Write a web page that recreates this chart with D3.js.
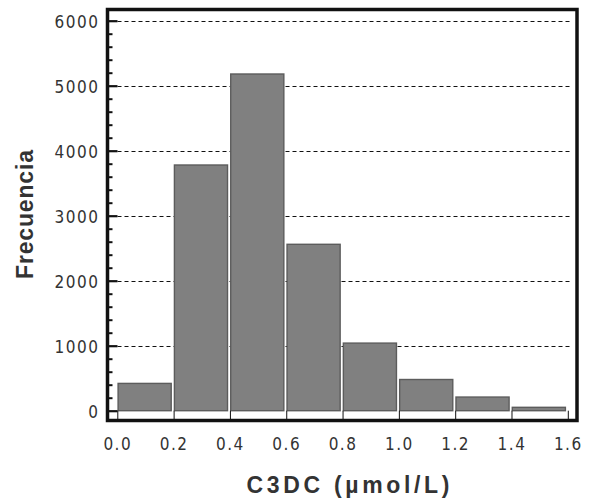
<!DOCTYPE html>
<html lang="es">
  <head>
    <meta charset="UTF-8" />
    <script src="https://d3js.org/d3.v7.min.js"></script>
    <style>
      body { margin: 0; background: #fff; }
      .tick text { font-family: "Liberation Sans Narrow", "DejaVu Sans Condensed", sans-serif; font-size: 17px; fill: #333; letter-spacing: 1.5px; }
      .title { font-family: "Liberation Sans", Arial, sans-serif; font-weight: bold; fill: #333; }
    </style>
  </head>

  <body>
    <script>
      var width = 591,
        height = 498;

      // limites de clase (µmol/L) y frecuencias
      var binStarts = [0.0, 0.2, 0.4, 0.6, 0.8, 1.0, 1.2, 1.4];
      var binWidth = 0.2;
      var frecuencias = [420, 3780, 5180, 2560, 1040, 480, 210, 52];
      var xTicks = [0.0, 0.2, 0.4, 0.6, 0.8, 1.0, 1.2, 1.4, 1.6];
      var yTicks = [0, 1000, 2000, 3000, 4000, 5000, 6000];

      var svg = d3
        .select("body")
        .append("svg")
        .attr("width", width)
        .attr("height", height);

      var frame = { left: 107.5, right: 577, top: 9.5, bottom: 420.5 };

      var x = d3.scaleLinear().domain([0, 1.6]).range([117.3, 567.8]);
      var y = d3.scaleLinear().domain([0, 6000]).range([410.7, 20.7]);

      // lineas de cuadricula
      svg
        .append("g")
        .selectAll("line")
        .data(yTicks.slice(1))
        .enter()
        .append("line")
        .attr("x1", frame.left + 10)
        .attr("x2", frame.right - 5)
        .attr("y1", function (d) { return Math.round(y(d)) + 0.5; })
        .attr("y2", function (d) { return Math.round(y(d)) + 0.5; })
        .attr("stroke", "#111")
        .attr("stroke-width", 1)
        .attr("stroke-dasharray", "4,3");

      // barras
      svg
        .append("g")
        .selectAll("rect")
        .data(frecuencias)
        .enter()
        .append("rect")
        .attr("x", function (d, i) { return x(binStarts[i]) + 0.8; })
        .attr("y", function (d) { return y(d); })
        .attr("width", function (d, i) { return x(binStarts[i] + binWidth) - x(binStarts[i]) - 3.2; })
        .attr("height", function (d) { return y(0) - y(d); })
        .attr("fill", "#808080")
        .attr("stroke", "#5c5c5c")
        .attr("stroke-width", 1.4);

      // eje Y (ticks hacia dentro)
      var yAxis = svg
        .append("g")
        .attr("transform", "translate(" + frame.left + ",0)")
        .call(d3.axisLeft(y).tickValues(yTicks).tickSize(-10).tickPadding(8).tickFormat(d3.format("d")));
      yAxis.select(".domain").remove();
      yAxis.selectAll(".tick line").attr("stroke", "#111").attr("stroke-width", 2.2);
      yAxis.selectAll(".tick text").attr("dy", "0.42em");

      // ticks menores cada 200
      var minor = svg
        .append("g")
        .attr("transform", "translate(" + frame.left + ",0)")
        .call(d3.axisLeft(y).tickValues(d3.range(200, 6000, 200).filter(function (v) { return v % 1000 !== 0; })).tickSize(-5).tickFormat(""));
      minor.select(".domain").remove();
      minor.selectAll(".tick line").attr("stroke", "#111").attr("stroke-width", 2);

      // eje X
      var xAxis = svg
        .append("g")
        .attr("transform", "translate(0," + frame.bottom + ")")
        .call(d3.axisBottom(x).tickValues(xTicks).tickSize(-9.8).tickPadding(17).tickFormat(d3.format(".1f")));
      xAxis.select(".domain").remove();
      xAxis.selectAll(".tick line").attr("stroke", "#111").attr("stroke-width", 1);

      // marco
      svg
        .append("rect")
        .attr("x", frame.left)
        .attr("y", frame.top)
        .attr("width", frame.right - frame.left)
        .attr("height", frame.bottom - frame.top)
        .attr("fill", "none")
        .attr("stroke", "#111")
        .attr("stroke-width", 3.5);

      // titulos de ejes
      svg
        .append("text")
        .attr("class", "title")
        .attr("x", 348)
        .attr("y", 493)
        .attr("text-anchor", "middle")
        .attr("font-size", 23)
        .attr("textLength", 203)
        .attr("lengthAdjust", "spacing")
        .text("C3DC (µmol/L)");

      svg
        .append("text")
        .attr("class", "title")
        .attr("transform", "translate(33,214.5) rotate(-90)")
        .attr("text-anchor", "middle")
        .attr("font-size", 23)
        .attr("textLength", 129)
        .attr("lengthAdjust", "spacing")
        .text("Frecuencia");
    </script>
  </body>
</html>
